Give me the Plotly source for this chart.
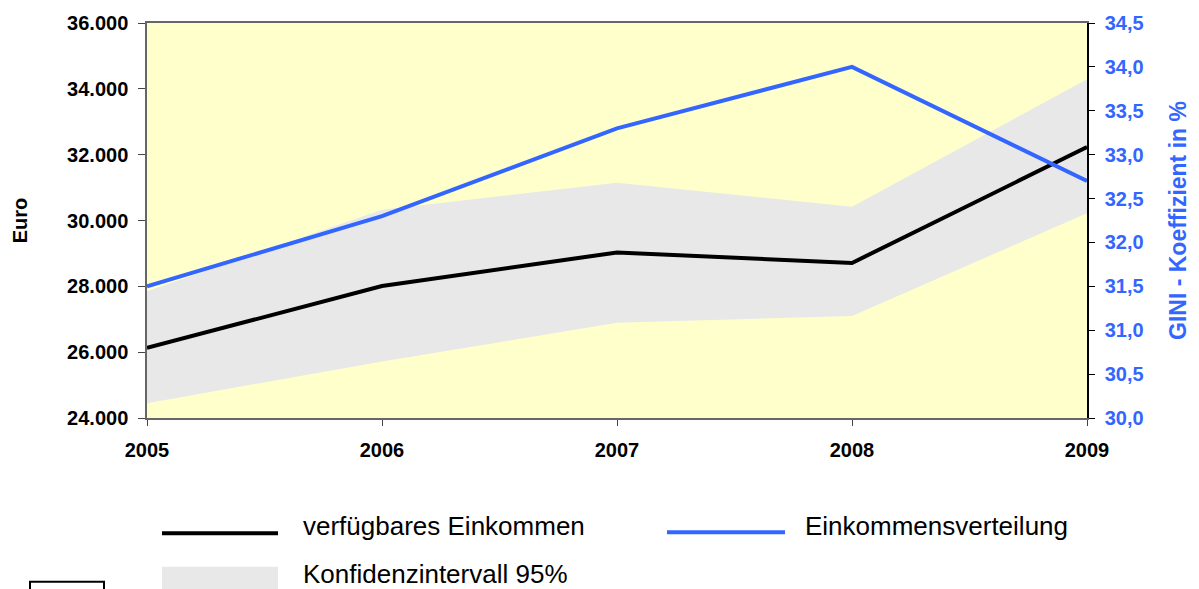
import plotly.graph_objects as go

years = [2005, 2006, 2007, 2008, 2009]
income = [26130, 28010, 29030, 28710, 32230]
ci_upper = [27850, 30330, 31150, 30420, 34290]
ci_lower = [24450, 25720, 26890, 27100, 30220]
gini = [31.5, 32.3, 33.3, 34.0, 32.7]

x_ticks = [2005, 2006, 2007, 2008, 2009]
y_ticks = [24000, 26000, 28000, 30000, 32000, 34000, 36000]
y2_ticks = [30.0, 30.5, 31.0, 31.5, 32.0, 32.5, 33.0, 33.5, 34.0, 34.5]

W, H = 1199, 589
L, R, T, B = 147, 1087, 20, 418
BLUE = "#3366FF"
GRAY = "#E8E8E8"
FONT = "Liberation Sans, Arial, sans-serif"


def px(x):
    return (x - L) / (R - L)


def py(y):
    return (B - y) / (B - T)


fig = go.Figure()
fig.add_trace(go.Scatter(x=years, y=ci_lower, mode="lines", line=dict(width=0),
                         showlegend=False, hoverinfo="skip"))
fig.add_trace(go.Scatter(x=years, y=ci_upper, mode="lines", line=dict(width=0),
                         fill="tonexty", fillcolor=GRAY, showlegend=False,
                         name="Konfidenzintervall 95%"))
fig.add_trace(go.Scatter(x=years, y=income, mode="lines",
                         line=dict(color="black", width=4),
                         showlegend=False, name="verfügbares Einkommen"))
fig.add_trace(go.Scatter(x=years, y=gini, mode="lines", yaxis="y2",
                         line=dict(color=BLUE, width=4),
                         showlegend=False, name="Einkommensverteilung"))

shapes = [
    dict(type="line", xref="paper", yref="paper", x0=px(162), x1=px(278),
         y0=py(534), y1=py(534), line=dict(color="black", width=4)),
    dict(type="line", xref="paper", yref="paper", x0=px(667), x1=px(785),
         y0=py(533), y1=py(533), line=dict(color=BLUE, width=4)),
    dict(type="rect", xref="paper", yref="paper", x0=px(162), x1=px(278),
         y0=py(568), y1=py(600), line=dict(width=0), fillcolor=GRAY),
    dict(type="rect", xref="paper", yref="paper", x0=px(30), x1=px(104),
         y0=py(583), y1=py(605), line=dict(color="black", width=2),
         fillcolor="rgba(0,0,0,0)"),
]

ann_font = dict(family=FONT, size=26, color="black")
annotations = [
    dict(text="verfügbares Einkommen", xref="paper", yref="paper",
         x=px(301), y=py(527), xanchor="left", yanchor="middle",
         showarrow=False, font=ann_font),
    dict(text="Einkommensverteilung", xref="paper", yref="paper",
         x=px(803), y=py(527), xanchor="left", yanchor="middle",
         showarrow=False, font=ann_font),
    dict(text="Konfidenzintervall 95%", xref="paper", yref="paper",
         x=px(301), y=py(575), xanchor="left", yanchor="middle",
         showarrow=False, font=ann_font),
]

fig.update_layout(
    width=W, height=H,
    margin=dict(l=L, r=W - R, t=T, b=H - B),
    paper_bgcolor="white",
    plot_bgcolor="#FFFFCC",
    separators=",.",
    showlegend=False,
    shapes=shapes,
    annotations=annotations,
    font=dict(family=FONT),
    xaxis=dict(
        range=[2005, 2009], tickvals=x_ticks, ticktext=[str(v) for v in x_ticks],
        showgrid=False, zeroline=False,
        showline=True, linecolor="#666666", linewidth=1.5, mirror=True,
        ticks="outside", ticklen=6, tickcolor="#444444",
        ticklabelstandoff=7,
        tickfont=dict(family=FONT, size=20, color="black", weight="bold"),
    ),
    yaxis=dict(
        range=[24000, 36000], tickvals=y_ticks, tickformat=",.0f",
        showgrid=False, zeroline=False,
        showline=True, linecolor="#666666", linewidth=1.5,
        ticks="outside", ticklen=7, tickcolor="#444444",
        ticklabelstandoff=6,
        tickfont=dict(family=FONT, size=20, color="black", weight="bold"),
        title=dict(text="Euro", standoff=34,
                   font=dict(family=FONT, size=20, color="black", weight="bold")),
    ),
    yaxis2=dict(
        range=[30, 34.5], tickvals=y2_ticks, tickformat=".1f",
        overlaying="y", side="right",
        showgrid=False, zeroline=False,
        showline=True, linecolor="black", linewidth=1.5,
        ticks="outside", ticklen=6, tickcolor="black",
        ticklabelstandoff=6,
        tickfont=dict(family=FONT, size=20, color=BLUE, weight="bold"),
        title=dict(text="GINI - Koeffizient in %", standoff=27,
                   font=dict(family=FONT, size=23, color=BLUE, weight="bold")),
    ),
)

fig.write_html("out.html",
               config={"displayModeBar": False},
               post_script="document.body.style.margin='0';"
                           "document.body.style.overflow='hidden';")
